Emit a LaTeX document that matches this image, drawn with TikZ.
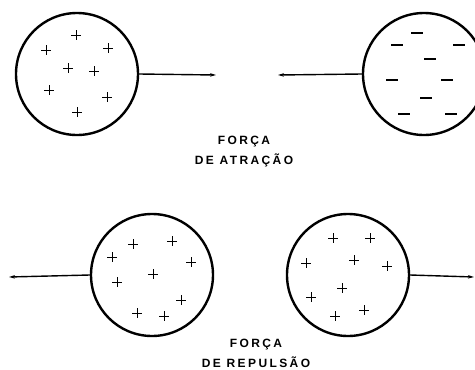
\documentclass[tikz,border=0pt]{standalone}
\usepackage{fontspec}
\setmainfont{Liberation Sans}
\newfontfamily\legendfont[LetterSpace=20]{Liberation Sans}
\usetikzlibrary{arrows.meta}

\begin{document}
\begin{tikzpicture}[
    x=1pt, y=-1pt,
    sphere/.style={circle, draw, line width=2.4pt, minimum size=122pt, inner sep=0pt},
    force/.style={line width=1.4pt, -{Stealth[length=6pt, width=3.5pt]}},
    posit/.style={line width=0.8pt},
    negat/.style={line width=1.6pt},
    legend/.style={align=center, font=\legendfont\bfseries\fontsize{12}{20}\selectfont}
]
\useasboundingbox (0,0) rectangle (475,370);

% atracao
\node[sphere] (pa) at (77,74) {};
\node[sphere] (na) at (424,74) {};
\coordinate (fa1) at (216,75);
\coordinate (fa2) at (278,75);
\draw[force] (pa.east) -- (fa1);
\draw[force] (na.west) -- (fa2);
\foreach \x/\y in {76/35, 46/50, 108/48, 68/68, 94/71, 49/90, 107/97, 77/112}
    \draw[posit] (\x-5,\y) -- (\x+5,\y) (\x,\y-5) -- (\x,\y+5);
\foreach \x/\y in {417/33, 397/45, 459/45, 430/59, 392/80, 447/80, 426/98, 404/114, 451/114}
    \draw[negat] (\x-6,\y) -- (\x+6,\y);
\node[legend] (atr) at (244,152) {FORÇA\\DE ATRAÇÃO};

% repulsao
\node[sphere] (pl) at (152,275) {};
\node[sphere] (pr) at (348,275) {};
\coordinate (fr1) at (9,277);
\coordinate (fr2) at (474,277);
\draw[force] (pl.west) -- (fr1);
\draw[force] (pr.east) -- (fr2);
\foreach \x/\y in {133/244, 172/241, 112/257, 191/262, 153/274, 117/282, 181/300, 137/313, 164/316,
                   333/238, 370/238, 306/263, 354/260, 387/266, 342/288, 311/297, 364/310, 335/316}
    \draw[posit] (\x-5,\y) -- (\x+5,\y) (\x,\y-5) -- (\x,\y+5);
\node[legend] (rep) at (256,353) {FORÇA\\DE REPULSÃO};

\end{tikzpicture}
\end{document}
